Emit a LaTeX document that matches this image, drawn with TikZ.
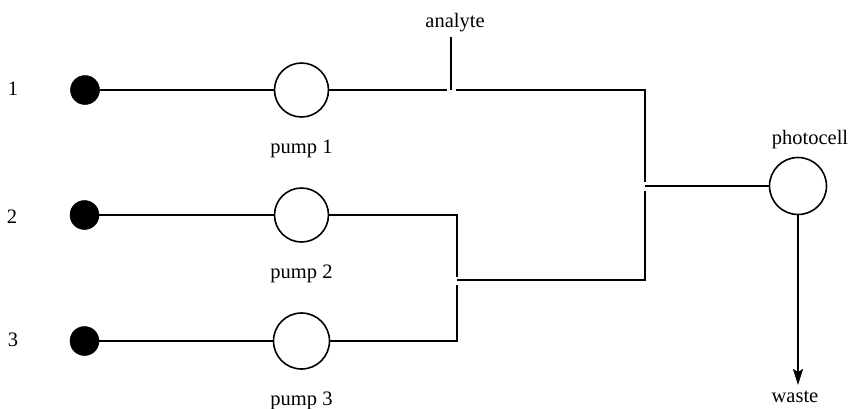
\documentclass[tikz,border=0pt]{standalone}
\usepackage{fontspec}
\setmainfont{Liberation Serif}
\usetikzlibrary{arrows.meta}
\tikzset{
  x=1pt,y=-1pt,
  inlet/.style={circle,fill=black,draw=black,line width=0.5pt,minimum size=29pt,inner sep=0pt},
  pumpnode/.style={circle,draw=black,line width=1.6pt,fill=white,minimum size=#1,inner sep=0pt},
  label/.style={anchor=base,inner sep=0pt,font=\fontsize{20.5}{24}\selectfont,text=black},
  pipe/.style={draw=black,line width=1.6pt,line cap=butt,line join=miter}
}
\begin{document}
\begin{tikzpicture}
\useasboundingbox (0,0) rectangle (851,408);
% inlets and pumps
\node[inlet] (i1) at (85,90) {};
\node[inlet] (i2) at (84.5,215) {};
\node[inlet] (i3) at (84.5,341) {};
\node[pumpnode=54pt] (p1) at (301.5,90) {};
\node[pumpnode=54pt] (p2) at (301.5,215) {};
\node[pumpnode=56pt] (p3) at (301.5,341) {};
\node[pumpnode=57pt] (cell) at (798,186) {};
% labels
\node[label] (n1) at (13,95) {1};
\node[label] (n2) at (12,223) {2};
\node[label] (n3) at (13,346) {3};
\node[label] (lp1) at (301.5,153) {pump 1};
\node[label] (lp2) at (301.5,278) {pump 2};
\node[label] (lp3) at (301.5,405) {pump 3};
\node[label] (lan) at (455,27) {analyte};
\node[label] (lph) at (810,144) {photocell};
\node[label] (lw) at (795,402) {waste};
% junction coordinates
\coordinate (a1) at (447,90);
\coordinate (a2) at (456,90);
\coordinate (atop) at (451,37);
\coordinate (abot) at (451,90);
\coordinate (c1) at (645,90);
\coordinate (c2) at (645,181.5);
\coordinate (c3) at (645,186);
\coordinate (c4) at (645,190.5);
\coordinate (c5) at (645,280);
\coordinate (j1) at (457,277);
\coordinate (j2) at (457,280);
\coordinate (j3) at (457,285);
\coordinate (t1) at (457,215);
\coordinate (t2) at (457,341);
\coordinate (wend) at (798,385);
% connectors
\draw[pipe] (i1) -- (p1);
\draw[pipe] (i2) -- (p2);
\draw[pipe] (i3) -- (p3);
\draw[pipe] (p1.east) -- (a1);
\draw[pipe] (atop) -- (abot);
\draw[pipe] (a2) -- (c1) -- (c2);
\draw[pipe] (c3) -- (cell.west);
\draw[pipe] (c4) -- (c5) -- (j2);
\draw[pipe] (p2.east) -- (t1) -- (j1);
\draw[pipe] (p3.east) -- (t2) -- (j3);
\draw[pipe,-{Stealth[length=16pt,width=10pt,inset=3pt]}] (cell.south) -- (wend);
\end{tikzpicture}
\end{document}
